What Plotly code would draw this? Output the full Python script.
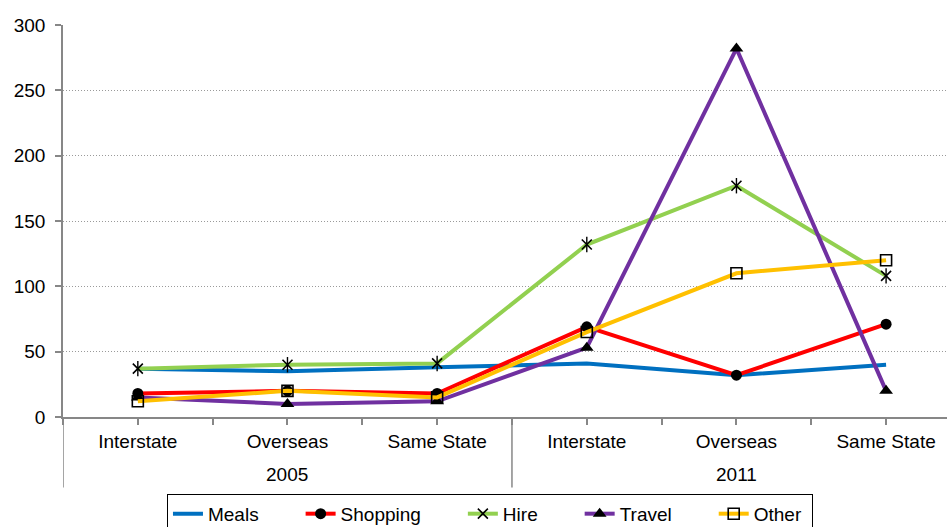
import plotly.graph_objects as go

# Category levels
years = ["2005", "2005", "2005", "2011", "2011", "2011"]
places = ["Interstate", "Overseas", "Same State", "Interstate", "Overseas", "Same State"]

# Expense values per series
meals = [37, 35, 38, 41, 32, 40]
shopping = [18, 20, 18, 69, 32, 71]
hire = [37, 40, 41, 132, 177, 108]
travel = [15, 10, 12, 53, 282, 20]
other = [12, 20, 15, 65, 110, 120]

# Position of each category on the axis
idx = list(range(len(places)))

# Year groups: their centres and their boundaries
groups = []
for i, yr in enumerate(years):
    if not groups or groups[-1][0] != yr:
        groups.append([yr, i, i])
    else:
        groups[-1][2] = i

FONT = "Liberation Sans, Arial, sans-serif"
FS = 19
LW = 4
AXIS = "#878787"
NBSP = "\u00a0"


def legend_name(s, pad=7):
    # extra room after each legend label
    return s + NBSP * pad


fig = go.Figure()

fig.add_trace(go.Scatter(x=idx, y=meals, name=legend_name("Meals"), mode="lines",
                         line=dict(color="#0070C0", width=LW)))
fig.add_trace(go.Scatter(x=idx, y=shopping, name=legend_name("Shopping"), mode="lines+markers",
                         line=dict(color="#FF0000", width=LW),
                         marker=dict(symbol="circle", size=11, color="black")))
fig.add_trace(go.Scatter(x=idx, y=hire, name=legend_name("Hire"), mode="lines+markers",
                         line=dict(color="#92D050", width=LW),
                         marker=dict(symbol="x-thin-open", size=10, color="black",
                                     line=dict(color="black", width=1.6))))
# vertical stroke that completes the star marker
fig.add_trace(go.Scatter(x=idx, y=hire, mode="markers", showlegend=False,
                         hoverinfo="skip",
                         marker=dict(symbol="line-ns-open", size=11, color="black",
                                     line=dict(color="black", width=1.4))))
fig.add_trace(go.Scatter(x=idx, y=travel, name=legend_name("Travel"), mode="lines+markers",
                         line=dict(color="#7030A0", width=LW),
                         marker=dict(symbol="triangle-up", size=12, color="black")))
fig.add_trace(go.Scatter(x=idx, y=other, name=legend_name("Other", 1), mode="lines+markers",
                         line=dict(color="#FFC000", width=LW),
                         marker=dict(symbol="square-open", size=11, color="black",
                                     line=dict(color="black", width=1.6))))

XR = [-0.5, 5.407]

# tick marks at category centres and boundaries, labels at centres only
tickvals, ticktext = [], []
for i, p in enumerate(places):
    tickvals += [i - 0.5, i]
    ticktext += ["", p]

shapes = []
annotations = []
DIV_BOTTOM = -0.18
for yr, a, b in groups:
    annotations.append(dict(x=(a + b) / 2, y=-0.146, xref="x", yref="paper",
                            text=yr, showarrow=False, yanchor="middle",
                            font=dict(family=FONT, size=FS, color="black")))
    shapes.append(dict(type="line", xref="x", yref="paper",
                       x0=a - 0.5, x1=a - 0.5, y0=0, y1=DIV_BOTTOM,
                       line=dict(color=AXIS, width=1.5)))

fig.update_layout(
    width=947, height=527,
    margin=dict(l=63, r=0, t=25, b=110, autoexpand=False),
    paper_bgcolor="white", plot_bgcolor="white",
    font=dict(family=FONT, size=FS, color="black"),
    xaxis=dict(
        range=XR, tickmode="array", tickvals=tickvals, ticktext=ticktext,
        showline=True, linecolor=AXIS, linewidth=1.5,
        ticks="outside", ticklen=6, tickcolor=AXIS, tickwidth=1.5,
        ticklabelstandoff=0,
        showgrid=False, zeroline=False,
        tickfont=dict(family=FONT, size=FS, color="black"),
    ),
    yaxis=dict(
        range=[0, 300], dtick=50,
        showline=True, linecolor=AXIS, linewidth=1.5,
        ticks="outside", ticklen=6, tickcolor=AXIS, tickwidth=1.5,
        ticklabelstandoff=6,
        showgrid=True, gridcolor="#9a9a9a", griddash="1px,2px", gridwidth=1,
        zeroline=False,
        tickfont=dict(family=FONT, size=FS, color="black"),
    ),
    shapes=shapes,
    annotations=annotations,
    legend=dict(
        orientation="h", x=0.483, xanchor="center", y=-0.196, yanchor="top",
        bordercolor="black", borderwidth=1,
        font=dict(family=FONT, size=FS, color="black"),
        itemwidth=30,
    ),
    showlegend=True,
)

fig.write_html("out.html")
